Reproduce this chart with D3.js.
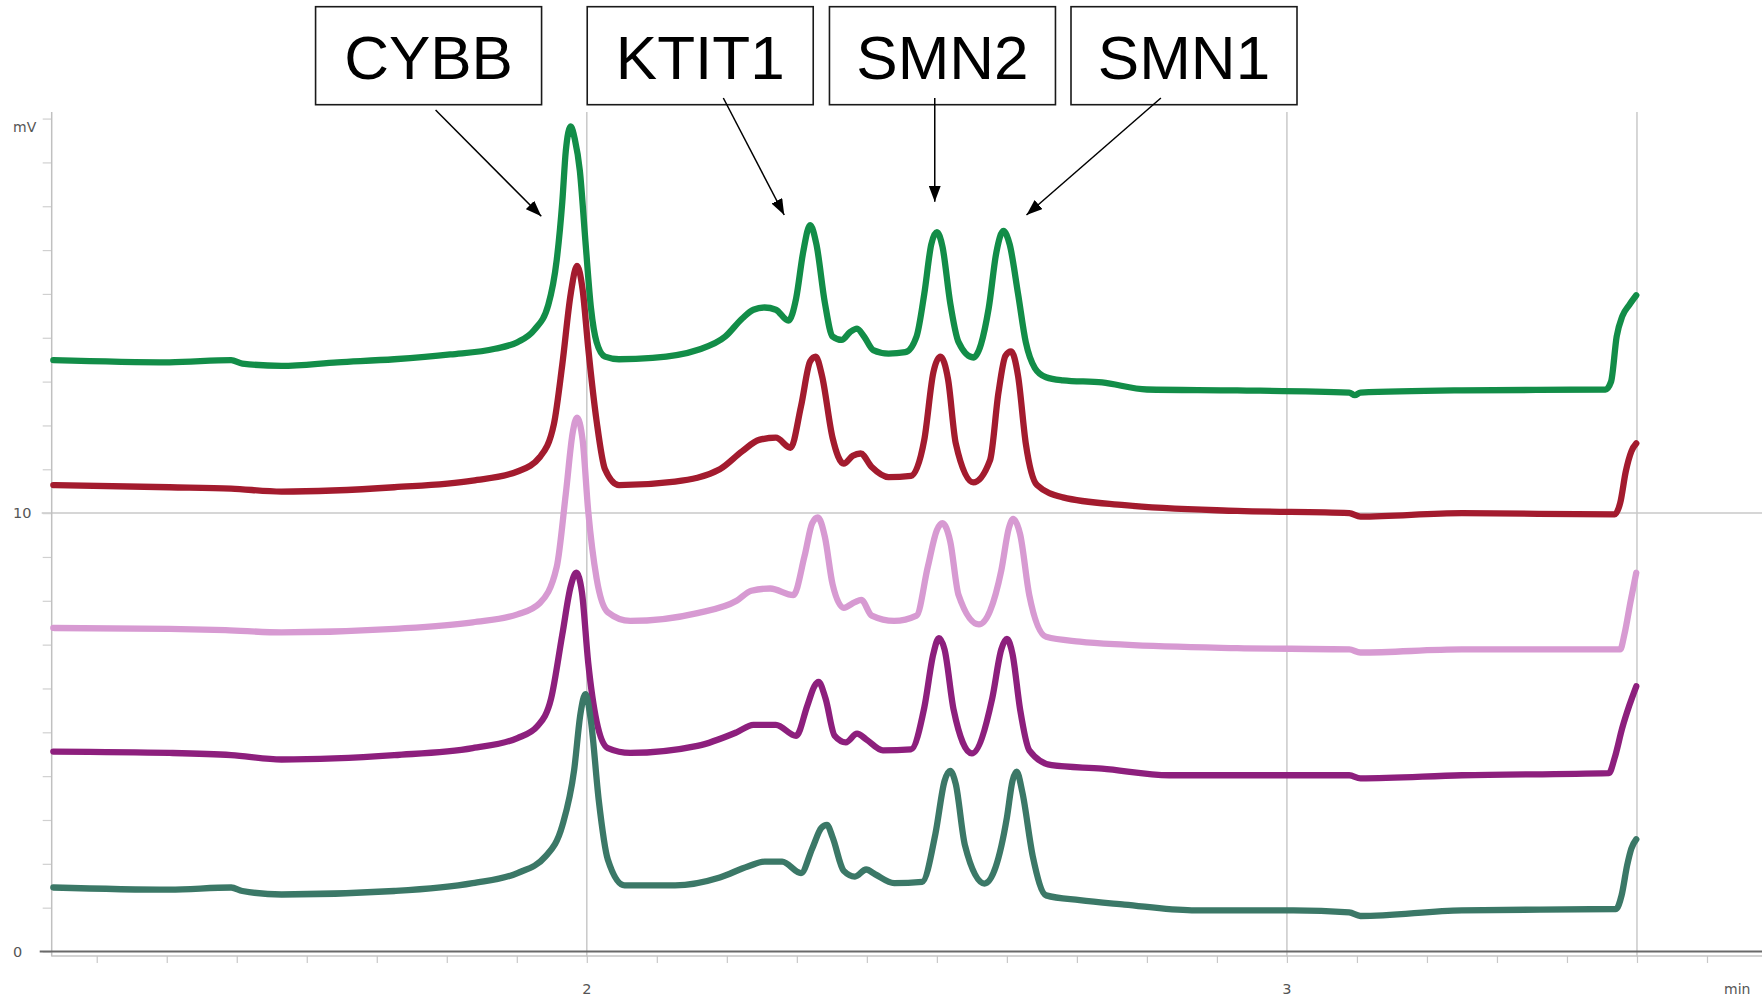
<!doctype html>
<html>
<head>
<meta charset="utf-8">
<script src="https://cdn.jsdelivr.net/npm/d3@7"></script>
<style>
  html, body { margin: 0; padding: 0; background: #fff; }
  svg { display: block; }
</style>
</head>
<body>
<div id="chart"></div>
<script>
// peak annotations: label text, box centre (min), arrow tip (min, mV)
var labels = ["CYBB", "KTIT1", "SMN2", "SMN1"];
var labelTimes = [1.774, 2.162, 2.508, 2.853];
var arrowTailTimes = [1.784, 2.195, 2.497, 2.820];
var arrowTips = [[1.935, 16.77], [2.282, 16.80], [2.497, 17.10], [2.628, 16.80]];

var xTickLabels = [2, 3];
var xGrid = [2, 3, 3.5];
var yTickLabels = [0, 10];

// traces, [time (min), signal (mV)]
var traceGreen = [[1.238,13.49],[1.404,13.44],[1.492,13.49],[1.508,13.41],[1.564,13.36],[1.644,13.44],[1.725,13.51],[1.805,13.62],[1.869,13.75],[1.901,13.90],[1.925,14.18],[1.945,14.75],[1.957,15.77],[1.965,17.10],[1.970,18.26],[1.977,18.82],[1.983,18.52],[1.990,17.82],[1.998,16.21],[2.006,14.67],[2.014,13.90],[2.026,13.57],[2.046,13.51],[2.094,13.54],[2.158,13.72],[2.198,14.03],[2.222,14.44],[2.238,14.64],[2.254,14.69],[2.270,14.64],[2.288,14.39],[2.299,14.90],[2.309,15.95],[2.319,16.57],[2.328,16.13],[2.340,14.80],[2.351,14.03],[2.364,13.95],[2.376,14.13],[2.386,14.21],[2.396,14.03],[2.409,13.72],[2.431,13.64],[2.455,13.67],[2.471,14.03],[2.482,15.00],[2.492,16.13],[2.500,16.41],[2.508,16.08],[2.519,14.80],[2.531,13.90],[2.552,13.55],[2.574,14.67],[2.585,15.95],[2.595,16.44],[2.604,16.13],[2.616,15.00],[2.627,13.90],[2.640,13.31],[2.656,13.10],[2.680,13.03],[2.736,12.98],[2.800,12.82],[2.929,12.80],[3.089,12.75],[3.097,12.69],[3.105,12.75],[3.250,12.80],[3.455,12.82],[3.463,13.00],[3.471,14.03],[3.479,14.49],[3.489,14.75],[3.499,14.97]];

var traceRed = [[1.238,10.64],[1.404,10.59],[1.492,10.56],[1.564,10.49],[1.725,10.59],[1.837,10.74],[1.901,10.95],[1.933,11.28],[1.953,12.03],[1.965,13.39],[1.977,15.00],[1.986,15.64],[1.994,15.10],[2.002,13.77],[2.014,12.10],[2.026,11.00],[2.046,10.64],[2.126,10.72],[2.190,11.00],[2.222,11.41],[2.246,11.67],[2.270,11.72],[2.291,11.49],[2.306,12.44],[2.319,13.46],[2.327,13.57],[2.336,13.13],[2.351,11.72],[2.367,11.13],[2.380,11.31],[2.391,11.36],[2.407,11.05],[2.431,10.82],[2.463,10.85],[2.482,11.67],[2.495,13.21],[2.505,13.57],[2.516,13.05],[2.527,11.59],[2.552,10.70],[2.576,11.21],[2.588,12.75],[2.598,13.59],[2.606,13.69],[2.616,13.13],[2.627,11.59],[2.643,10.64],[2.680,10.36],[2.768,10.18],[2.929,10.05],[3.089,10.00],[3.105,9.92],[3.250,10.00],[3.468,9.97],[3.476,10.23],[3.484,10.95],[3.492,11.41],[3.499,11.59]];

var tracePink = [[1.238,7.38],[1.404,7.36],[1.484,7.33],[1.564,7.28],[1.725,7.36],[1.837,7.51],[1.901,7.69],[1.933,7.95],[1.957,8.77],[1.970,10.44],[1.980,11.85],[1.986,12.18],[1.994,11.67],[2.002,10.05],[2.014,8.51],[2.030,7.74],[2.062,7.54],[2.158,7.72],[2.214,8.00],[2.235,8.23],[2.262,8.28],[2.295,8.13],[2.311,9.02],[2.322,9.77],[2.330,9.90],[2.340,9.46],[2.351,8.38],[2.367,7.84],[2.383,7.97],[2.392,8.02],[2.407,7.66],[2.439,7.54],[2.471,7.66],[2.487,8.77],[2.500,9.61],[2.508,9.77],[2.519,9.36],[2.531,8.13],[2.560,7.46],[2.592,8.69],[2.603,9.67],[2.609,9.87],[2.619,9.51],[2.632,8.13],[2.656,7.18],[2.704,7.07],[2.768,7.00],[2.929,6.92],[3.089,6.89],[3.105,6.82],[3.250,6.89],[3.476,6.89],[3.482,7.23],[3.491,8.00],[3.499,8.64]];

var tracePurple = [[1.238,4.56],[1.404,4.53],[1.492,4.48],[1.564,4.38],[1.725,4.48],[1.837,4.64],[1.901,4.87],[1.930,5.15],[1.949,5.77],[1.965,7.23],[1.977,8.33],[1.985,8.64],[1.993,8.20],[2.002,6.59],[2.014,5.25],[2.030,4.64],[2.062,4.53],[2.158,4.69],[2.214,5.00],[2.238,5.17],[2.270,5.17],[2.299,4.92],[2.315,5.61],[2.325,6.05],[2.331,6.15],[2.341,5.77],[2.354,4.92],[2.370,4.77],[2.386,4.97],[2.399,4.84],[2.423,4.59],[2.463,4.61],[2.482,5.56],[2.495,6.79],[2.503,7.15],[2.511,6.89],[2.524,5.51],[2.550,4.52],[2.579,5.77],[2.592,6.89],[2.600,7.13],[2.608,6.79],[2.619,5.51],[2.632,4.59],[2.664,4.25],[2.736,4.17],[2.832,4.02],[2.929,4.02],[3.089,4.02],[3.105,3.95],[3.250,4.02],[3.460,4.07],[3.468,4.41],[3.479,5.10],[3.489,5.61],[3.499,6.05]];

var traceTeal = [[1.238,1.46],[1.404,1.41],[1.492,1.46],[1.508,1.38],[1.564,1.30],[1.725,1.38],[1.837,1.56],[1.901,1.79],[1.941,2.17],[1.965,2.87],[1.982,4.15],[1.991,5.43],[1.998,5.87],[2.006,5.25],[2.017,3.46],[2.030,2.10],[2.054,1.51],[2.126,1.51],[2.190,1.69],[2.230,1.94],[2.254,2.05],[2.279,2.05],[2.306,1.79],[2.322,2.35],[2.335,2.82],[2.343,2.89],[2.351,2.61],[2.367,1.84],[2.383,1.71],[2.399,1.87],[2.412,1.76],[2.439,1.56],[2.479,1.59],[2.498,2.69],[2.511,3.89],[2.519,4.12],[2.527,3.82],[2.540,2.43],[2.568,1.55],[2.600,3.05],[2.608,3.89],[2.614,4.10],[2.622,3.64],[2.637,2.17],[2.656,1.28],[2.704,1.17],[2.768,1.07],[2.864,0.94],[3.009,0.94],[3.089,0.89],[3.105,0.81],[3.250,0.94],[3.470,0.97],[3.478,1.28],[3.486,1.97],[3.492,2.35],[3.499,2.56]];

var traces = [traceGreen, traceRed, tracePink, tracePurple, traceTeal];
var colors = ["#128d48", "#a31b2e", "#d79ad2", "#8d1f7d", "#3b7867"];

var W = 1762, H = 999;
var plotLeft = 51.7, plotBottom = 951.5, plotTop = 112;

var x = d3.scaleLinear().domain([1.2357, 3.67]).range([plotLeft, 1756]);
var y = d3.scaleLinear().domain([0, 19.15]).range([plotBottom, plotTop]);

var svg = d3.select("#chart").append("svg")
    .attr("width", W)
    .attr("height", H)
    .style("font-family", "'DejaVu Sans', sans-serif");

// grid lines
svg.selectAll("line.vgrid")
    .data(xGrid)
    .enter().append("line")
    .attr("class", "vgrid")
    .attr("x1", d => x(d)).attr("x2", d => x(d))
    .attr("y1", plotTop).attr("y2", plotBottom + 5)
    .attr("stroke", "#c9c9c9").attr("stroke-width", 1.5);

svg.append("line")
    .attr("x1", plotLeft - 10).attr("x2", W)
    .attr("y1", y(10)).attr("y2", y(10))
    .attr("stroke", "#c9c9c9").attr("stroke-width", 1.5);

// y axis (ticks every mV, drawn on the left)
var yAxis = d3.axisLeft(y)
    .tickValues(d3.range(0, 20))
    .tickSize(9)
    .tickFormat("");
var gy = svg.append("g")
    .attr("transform", "translate(" + plotLeft + ",0)")
    .call(yAxis);
gy.select(".domain").remove();
gy.selectAll(".tick line").attr("stroke", "#d0d0d0").attr("stroke-width", 1.2);
svg.append("line")
    .attr("x1", plotLeft).attr("x2", plotLeft)
    .attr("y1", plotTop).attr("y2", plotBottom + 5)
    .attr("stroke", "#c0c0c0").attr("stroke-width", 1.5);

// x axis frame + minor ticks every 0.1 min
var xAxis = d3.axisBottom(x)
    .tickValues(d3.range(13, 37).map(d => d / 10))
    .tickSize(7)
    .tickFormat("");
var gx = svg.append("g")
    .attr("transform", "translate(0," + (plotBottom + 4.5) + ")")
    .call(xAxis);
gx.select(".domain").remove();
gx.selectAll(".tick line").attr("stroke", "#c8c8c8").attr("stroke-width", 1.2);
svg.append("line")
    .attr("x1", plotLeft).attr("x2", W)
    .attr("y1", plotBottom + 4.5).attr("y2", plotBottom + 4.5)
    .attr("stroke", "#c4c4c4").attr("stroke-width", 1.5);

// zero line
svg.append("line")
    .attr("x1", plotLeft - 12).attr("x2", W)
    .attr("y1", y(0)).attr("y2", y(0))
    .attr("stroke", "#6a6a6a").attr("stroke-width", 2);

// axis texts
svg.selectAll("text.ylab")
    .data(yTickLabels)
    .enter().append("text")
    .attr("class", "ylab")
    .attr("x", 13).attr("y", d => y(d) + 5)
    .attr("font-size", 14.5).attr("fill", "#555")
    .text(d => d);

svg.append("text")
    .attr("x", 13).attr("y", 132)
    .attr("font-size", 14).attr("fill", "#555")
    .text("mV");

svg.selectAll("text.xlab")
    .data(xTickLabels)
    .enter().append("text")
    .attr("class", "xlab")
    .attr("x", d => x(d)).attr("y", 994)
    .attr("text-anchor", "middle")
    .attr("font-size", 14.5).attr("fill", "#555")
    .text(d => d);

svg.append("text")
    .attr("x", 1724).attr("y", 994)
    .attr("font-size", 14).attr("fill", "#555")
    .text("min");

// traces
var line = d3.line()
    .x(d => x(d[0]))
    .y(d => y(d[1]))
    .curve(d3.curveMonotoneX);

svg.selectAll("path.trace")
    .data(traces)
    .enter().append("path")
    .attr("class", "trace")
    .attr("d", line)
    .attr("fill", "none")
    .attr("stroke", (d, i) => colors[i])
    .attr("stroke-width", 6.3)
    .attr("stroke-linejoin", "round")
    .attr("stroke-linecap", "round");

// annotation boxes and arrows
svg.append("defs").append("marker")
    .attr("id", "head")
    .attr("viewBox", "0 0 16 12")
    .attr("refX", 16).attr("refY", 6)
    .attr("markerUnits", "userSpaceOnUse")
    .attr("markerWidth", 16).attr("markerHeight", 12)
    .attr("orient", "auto")
    .append("path")
    .attr("d", "M0,0 L16,6 L0,12 Z")
    .attr("fill", "#000");

var boxW = 226, boxH = 98, boxTop = 6.7;

var ann = svg.selectAll("g.ann")
    .data(labels)
    .enter().append("g")
    .attr("class", "ann");

ann.append("rect")
    .attr("x", (d, i) => x(labelTimes[i]) - boxW / 2)
    .attr("y", boxTop)
    .attr("width", boxW).attr("height", boxH)
    .attr("fill", "#fff")
    .attr("stroke", "#1a1a1a").attr("stroke-width", 1.6);

ann.append("text")
    .attr("x", (d, i) => x(labelTimes[i]))
    .attr("y", 79)
    .attr("text-anchor", "middle")
    .attr("font-family", "'Liberation Sans', Arial, sans-serif")
    .attr("font-size", 62)
    .attr("fill", "#000")
    .text(d => d);

ann.append("line")
    .attr("x1", (d, i) => x(arrowTailTimes[i]))
    .attr("y1", (d, i) => i === 0 ? 110 : 98)
    .attr("x2", (d, i) => x(arrowTips[i][0]))
    .attr("y2", (d, i) => y(arrowTips[i][1]))
    .attr("stroke", "#000").attr("stroke-width", 1.5)
    .attr("marker-end", "url(#head)");
</script>
</body>
</html>
